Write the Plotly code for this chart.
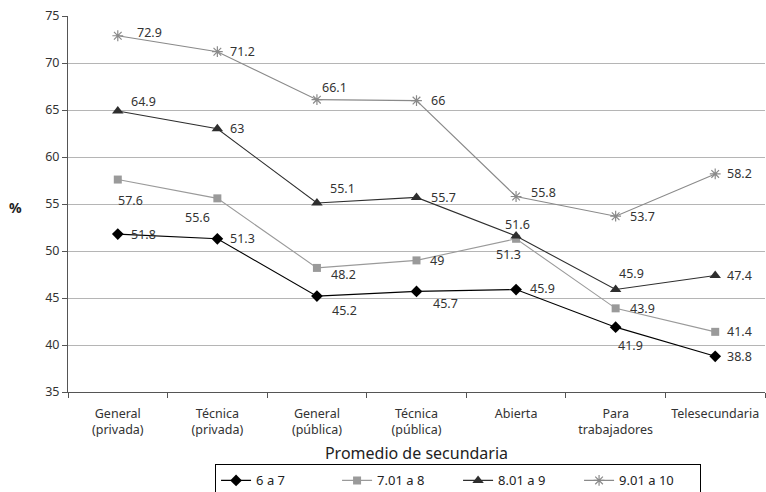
import plotly.graph_objects as go

categories = ["General<br>(privada)", "Técnica<br>(privada)", "General<br>(pública)", "Técnica<br>(pública)",
              "Abierta", "Para<br>trabajadores", "Telesecundaria"]
series_names = ["6 a 7", "7.01 a 8", "8.01 a 9", "9.01 a 10"]
v_6_7 = [51.8, 51.3, 45.2, 45.7, 45.9, 41.9, 38.8]
v_701_8 = [57.6, 55.6, 48.2, 49, 51.3, 43.9, 41.4]
v_801_9 = [64.9, 63, 55.1, 55.7, 51.6, 45.9, 47.4]
v_901_10 = [72.9, 71.2, 66.1, 66, 55.8, 53.7, 58.2]
y_ticks = [35, 40, 45, 50, 55, 60, 65, 70, 75]

# label offsets (px): left-edge dx, center dy (down positive)
offsets = [
    [(11, 0), (11, 0), (13, 14), (14, 12), (12, -1), (0, 18), (10, 0)],
    [(-2, 21), (-34, 19), (12, 7), (11, 0), (-22, 16), (12, 0), (10, 0)],
    [(11, -9), (11, 0), (11, -15), (12, 0), (-13, -11), (1, -16), (10, 0)],
    [(17, -3), (11, 0), (3, -12), (12, 0), (13, -4), (12, 0), (10, 0)],
]
styles = [
    dict(line=dict(color="#000000", width=1.1), marker=dict(symbol="diamond", size=9, color="#000000")),
    dict(line=dict(color="#9a9a9a", width=1.1), marker=dict(symbol="square", size=8, color="#9a9a9a")),
    dict(line=dict(color="#2e2e2e", width=1.1), marker=dict(symbol="triangle-up", size=10, color="#2e2e2e")),
    dict(line=dict(color="#8a8a8a", width=1.1), marker=dict(symbol="asterisk-open", size=9, color="#8a8a8a",
                                                           line=dict(color="#8a8a8a", width=1.2))),
]
all_vals = [v_6_7, v_701_8, v_801_9, v_901_10]

font_family = "Noto Sans"
fig = go.Figure()
annotations = []
for name, vals, st, offs in zip(series_names, all_vals, styles, offsets):
    fig.add_trace(go.Scatter(x=categories, y=vals, name=name, mode="lines+markers",
                             line=st["line"], marker=st["marker"]))
    for c, v, (dx, dy) in zip(categories, vals, offs):
        annotations.append(dict(x=c, y=v, xref="x", yref="y", text=f"{v:g}", showarrow=False,
                                xanchor="left", yanchor="middle", xshift=dx, yshift=-dy,
                                font=dict(family=font_family, size=12.5, color="#333333")))

annotations.append(dict(text="<b>%</b>", x=-0.076, y=0.49, xref="paper", yref="paper", showarrow=False,
                        xanchor="center", yanchor="middle",
                        font=dict(family=font_family, size=14, color="#222222")))

fig.update_layout(
    width=766, height=492,
    margin=dict(l=68, r=1, t=16, b=100),
    paper_bgcolor="white", plot_bgcolor="white",
    font=dict(family=font_family, size=12, color="#333333"),
    annotations=annotations,
    legend=dict(orientation="h", xref="container", yref="container", x=0.598, y=0.056,
                xanchor="center", yanchor="top",
                bordercolor="#000000", borderwidth=1, font=dict(size=13, color="#222222"),
                entrywidth=76, entrywidthmode="pixels", itemwidth=30),
    xaxis=dict(type="category", range=[-0.5, 6.5], tickson="boundaries", ticks="outside", ticklen=5,
               tickcolor="#555555", showline=True, linecolor="#555555", linewidth=1, showgrid=False,
               tickfont=dict(size=12.5, color="#333333"), ticklabelstandoff=10, tickangle=0,
               automargin=False,
               title=dict(text="Promedio de secundaria", font=dict(size=16, color="#222222"), standoff=14)),
    yaxis=dict(range=[35, 75], tickvals=y_ticks, ticks="outside", ticklen=5, tickcolor="#555555",
               showline=True, linecolor="#555555", linewidth=1, showgrid=True, gridcolor="#b5b5b5",
               gridwidth=1, zeroline=False, tickfont=dict(size=12.5, color="#333333"), automargin=False),
    showlegend=True,
)
fig.write_html("out.html", config={"displayModeBar": False},
               post_script="document.body.style.margin='0';")
